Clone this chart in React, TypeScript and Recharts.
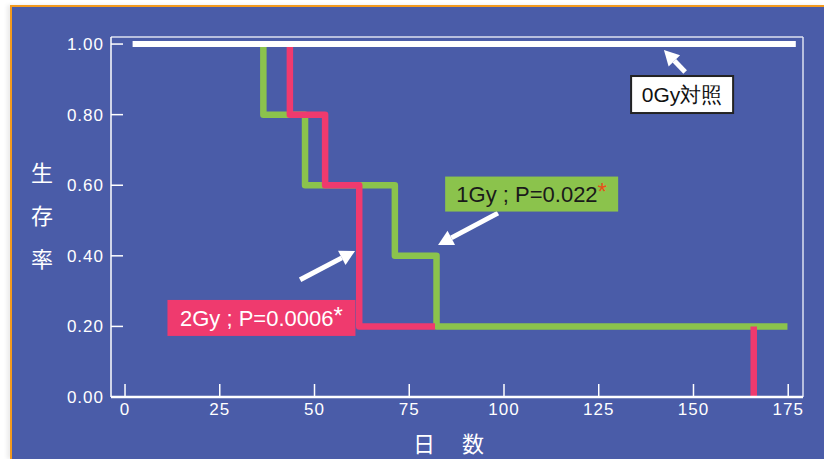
import React from "react";
import { LineChart, Line, XAxis, YAxis, ReferenceLine, ReferenceDot } from "recharts";

// survival steps (days, survival ratio)
const dayTicks = [0, 25, 50, 75, 100, 125, 150, 175];
const rateTicks = [0, 0.2, 0.4, 0.6, 0.8, 1.0];

const ctrlDays = [2, 177];
const ctrlRate = [1, 1];

const gy1Days = [36.5, 36.5, 47.5, 47.5, 71.2, 71.2, 82.2, 82.2, 174.8];
const gy1Rate = [1, 0.8, 0.8, 0.6, 0.6, 0.4, 0.4, 0.2, 0.2];

const gy2Days = [43.5, 43.5, 52.8, 52.8, 61.8, 61.8, 81.8, 120, 165.9, 165.9];
const gy2Rate = [1, 0.8, 0.8, 0.6, 0.6, 0.2, 0.2, null, 0.2, 0];

const BLUE = "#4a5ca8";
const GREEN = "#8bc34c";
const RED = "#ef3a6e";
const FONT = "'Liberation Sans', Arial, sans-serif";
const CJK = "'Noto Sans CJK JP', sans-serif";

const toRows = (xs: number[], ys: (number | null)[]) => xs.map((d, i) => ({ day: d, rate: ys[i] }));

const ctrl = toRows(ctrlDays, ctrlRate);
const gy1 = toRows(gy1Days, gy1Rate);
const gy2 = toRows(gy2Days, gy2Rate);

function Arrow(p: any) {
  const { x1, y1, x2, y2 } = p;
  const ang = Math.atan2(y2 - y1, x2 - x1);
  const L = 15, W = 8;
  const bx = x2 - L * Math.cos(ang), by = y2 - L * Math.sin(ang);
  const nx = -Math.sin(ang) * W, ny = Math.cos(ang) * W;
  return (
    <g>
      <line x1={x1} y1={y1} x2={bx} y2={by} stroke="#fff" strokeWidth={5} />
      <polygon points={`${x2},${y2} ${bx + nx},${by + ny} ${bx - nx},${by - ny}`} fill="#fff" />
    </g>
  );
}

const boxLabel = (w: number, h: number, fill: string, color: string, main: string, star: string, starColor: string, size: number, border?: string) =>
  (p: any) => (
    <g>
      <rect x={p.cx - w / 2} y={p.cy - h / 2} width={w} height={h} fill={fill}
            stroke={border || "none"} strokeWidth={border ? 2 : 0} />
      <text x={p.cx} y={p.cy + size * 0.36} textAnchor="middle" fontFamily={FONT} fontSize={size} fill={color}>
        {main}
        {star && <tspan fill={starColor} fontSize={size + 2} dy={-2}>{star}</tspan>}
      </text>
    </g>
  );

export default function App() {
  return (
    <div style={{ position: "fixed", left: 0, top: 0, width: 824, height: 459, background: "#fff", overflow: "hidden" }}>
      <div style={{
        position: "absolute", left: 10, top: 5, right: 0, bottom: 0, background: BLUE,
        borderTop: "2px solid #f39a1e", borderLeft: "2px solid #f39a1e",
        boxShadow: "-3px 0 4px rgba(0,0,0,0.08)"
      }} />
      <div style={{ position: "absolute", left: 31, top: 150, width: 22, fontFamily: CJK,
                    fontSize: 22, color: "#fff", lineHeight: "43px", textAlign: "center" }}>
        生<br />存<br />率
      </div>
      <div style={{ position: "absolute", left: 413, top: 426, fontFamily: CJK,
                    fontSize: 22, color: "#fff", whiteSpace: "pre" }}>
        日{"　 "}数
      </div>
      <div style={{ position: "absolute", left: 0, top: 0 }}>
        <LineChart width={824} height={459} margin={{ top: 37, right: 21, bottom: 61, left: 110 }}>
          <XAxis dataKey="day" type="number" domain={[-3.7, 178.9]} ticks={dayTicks} allowDataOverflow
                 height={1} tickSize={-13} tickMargin={19} axisLine={{ stroke: "#fff", strokeWidth: 2.5 }}
                 tickLine={{ stroke: "#fff", strokeWidth: 1.5 }}
                 tick={{ fill: "#fff", fontSize: 17, fontFamily: FONT, letterSpacing: 1 }} />
          <YAxis dataKey="rate" type="number" domain={[0, 1.02]} ticks={rateTicks} allowDataOverflow
                 width={1} tickSize={-12} tickMargin={19} axisLine={{ stroke: "#fff", strokeWidth: 1.5 }}
                 tickLine={{ stroke: "#fff", strokeWidth: 1.5 }}
                 tickFormatter={(v: number) => v.toFixed(2)}
                 tick={{ fill: "#fff", fontSize: 17, fontFamily: FONT, letterSpacing: 1 }} />
          <ReferenceLine y={1.02} stroke="#dde0f0" strokeWidth={1.5} />
          <ReferenceLine x={178.9} stroke="#dde0f0" strokeWidth={1.5} />
          <Line data={gy1} dataKey="rate" type="linear" stroke={GREEN} strokeWidth={6.5} dot={false}
                strokeLinejoin="round" isAnimationActive={false} />
          <Line data={gy2} dataKey="rate" type="linear" stroke={RED} strokeWidth={6.5} dot={false}
                strokeLinejoin="round" isAnimationActive={false} connectNulls={false} />
          <Line data={ctrl} dataKey="rate" type="linear" stroke="#fff" strokeWidth={6} dot={false}
                isAnimationActive={false} />
          <ReferenceLine segment={[{ x: 147.8, y: 0.921 }, { x: 142.2, y: 0.983 }]} shape={Arrow} ifOverflow="visible" />
          <ReferenceLine segment={[{ x: 98.4, y: 0.521 }, { x: 82.6, y: 0.431 }]} shape={Arrow} ifOverflow="visible" />
          <ReferenceLine segment={[{ x: 46.2, y: 0.332 }, { x: 60.7, y: 0.414 }]} shape={Arrow} ifOverflow="visible" />
          <ReferenceDot x={147} y={0.857} ifOverflow="visible"
                        shape={boxLabel(102, 37, "#fff", "#111", "0Gy対照", "", "", 21, "#222")} />
          <ReferenceDot x={107.3} y={0.575} ifOverflow="visible"
                        shape={boxLabel(173, 35, GREEN, "#1a1a1a", "1Gy ; P=0.022", "*", "#e8501a", 22)} />
          <ReferenceDot x={36} y={0.224} ifOverflow="visible"
                        shape={boxLabel(188, 36, RED, "#fff", "2Gy ; P=0.0006", "*", "#fff", 22)} />
        </LineChart>
      </div>
    </div>
  );
}
